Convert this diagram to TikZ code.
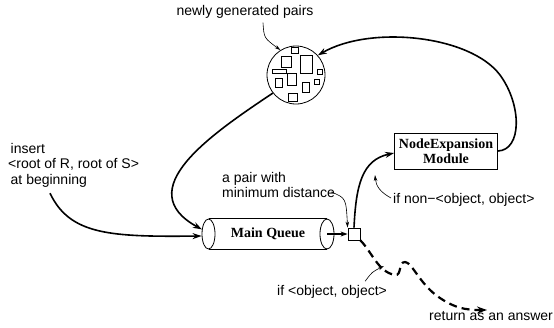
\documentclass[tikz,border=0pt]{standalone}
\usepackage{fontspec}
\setmainfont{Liberation Sans}
\newfontfamily\serifb{Liberation Serif}
\usetikzlibrary{arrows.meta,shapes.geometric}
\begin{document}
\begin{tikzpicture}[x=1pt,y=-1pt,
  lbl/.style={font=\fontsize{14}{15.5}\selectfont, inner sep=0pt, anchor=west, align=left},
  boldtxt/.style={font=\serifb\bfseries\fontsize{14}{15}\selectfont, inner sep=0pt},
  thk/.style={line width=1.6pt, -{Stealth[length=9pt,width=6pt]}},
  thn/.style={line width=0.6pt, -{Stealth[length=6pt,width=3.5pt]}},
  outline/.style={draw, line width=0.8pt},
  item/.style={line width=0.8pt},
  ]
\useasboundingbox (0,0) rectangle (554,327);

% labels
\node[lbl, anchor=center] (newtxt) at (245,12) {newly generated pairs};
\node[lbl] (instxt) at (8,165) {\hspace{2.5pt}insert\\<root of R, root of S>\\\hspace{2.5pt}at beginning};
\node[lbl] (pairtxt) at (222,185) {a pair with\\minimum distance};
\node[lbl] (nontxt) at (393,200) {if non\textminus<object, object>};
\node[lbl] (objtxt) at (277,292) {if <object, object>};
\node[lbl] (rettxt) at (429,316) {return as an answer};

% pool of pairs
\node[circle, outline, minimum size=58pt, inner sep=0pt] (pool) at (296,75) {};
\draw[item] (291,47) rectangle (298,53);
\draw[item] (281,56) rectangle (291,67);
\draw[item] (300,55) rectangle (312,73);
\draw[item] (272,69) rectangle (286,73);
\draw[item] (287,73) rectangle (296,85);
\draw[item] (275,78) rectangle (282,87);
\draw[item] (302,82) rectangle (309,92);
\draw[item] (317,69) rectangle (322,74);
\draw[item] (314,79) rectangle (319,84);
\draw[item] (288,93) rectangle (297,101);

% main queue cylinder
\node[ellipse, outline, minimum width=13pt, minimum height=30pt, inner sep=0pt] (lend) at (208.5,234) {};
\node[ellipse, outline, minimum width=14pt, minimum height=30pt, inner sep=0pt] (rend) at (327,234) {};
\draw[line width=0.8pt] (lend.north) -- (rend.north);
\draw[line width=0.8pt] (lend.south) -- (rend.south);
\node[boldtxt] (mq) at (268,234) {Main Queue};

% selector square
\node[outline, minimum size=12pt, inner sep=0pt] (sq) at (354,234) {};

% node expansion module
\node[outline, minimum width=103pt, minimum height=36pt, boldtxt, align=center] (ne) at (446,151) {NodeExpansion\\Module};

% connectors
\draw[thn] (newtxt.south) ++(18,4) coordinate (a1) (a1) .. controls (264,38) .. (pool.122);
\draw[thk] (ne.east) .. controls (522,150) and (522,105) .. (500,75)
   .. controls (470,35) and (370,25) .. (pool.42);
\draw[thk] (pool.218) .. controls (210,135) and (130,190) .. (lend.145);
\draw[thk] (instxt.south west) ++(42,6) coordinate (a2) (a2) .. controls (70,235) and (110,237) .. (lend.west |- 0,236);
\draw[line width=1.2pt, -{Stealth[length=7pt,width=5pt]}] (rend.center) -- (sq.west);
\draw[thk] (sq.north) .. controls (356,185) and (362,160) .. (ne.west |- 0,153);
\draw[thn] (pairtxt.east |- 0,192) ++(-4,0) coordinate (a3) (a3) .. controls (346,198) .. (sq.north west);
\draw[thn] (nontxt.west) ++(-2,-2) coordinate (a4) (a4) .. controls (380,192) and (376,186) .. (375,175);
\draw[line width=2.2pt, dash pattern=on 8pt off 5pt, -{Stealth[length=10pt,width=7pt]}]
   (sq.south east) .. controls (372,252) and (378,272) .. (395,275)
   .. controls (402,276) and (398,262) .. (405,262)
   .. controls (412,262) and (420,285) .. (440,298)
   .. controls (455,308) and (465,310) .. (487,310);
\draw[thn] (objtxt.north east) ++(-22,-4) coordinate (a5) (a5) .. controls (372,272) .. (384,266);
\end{tikzpicture}
\end{document}
